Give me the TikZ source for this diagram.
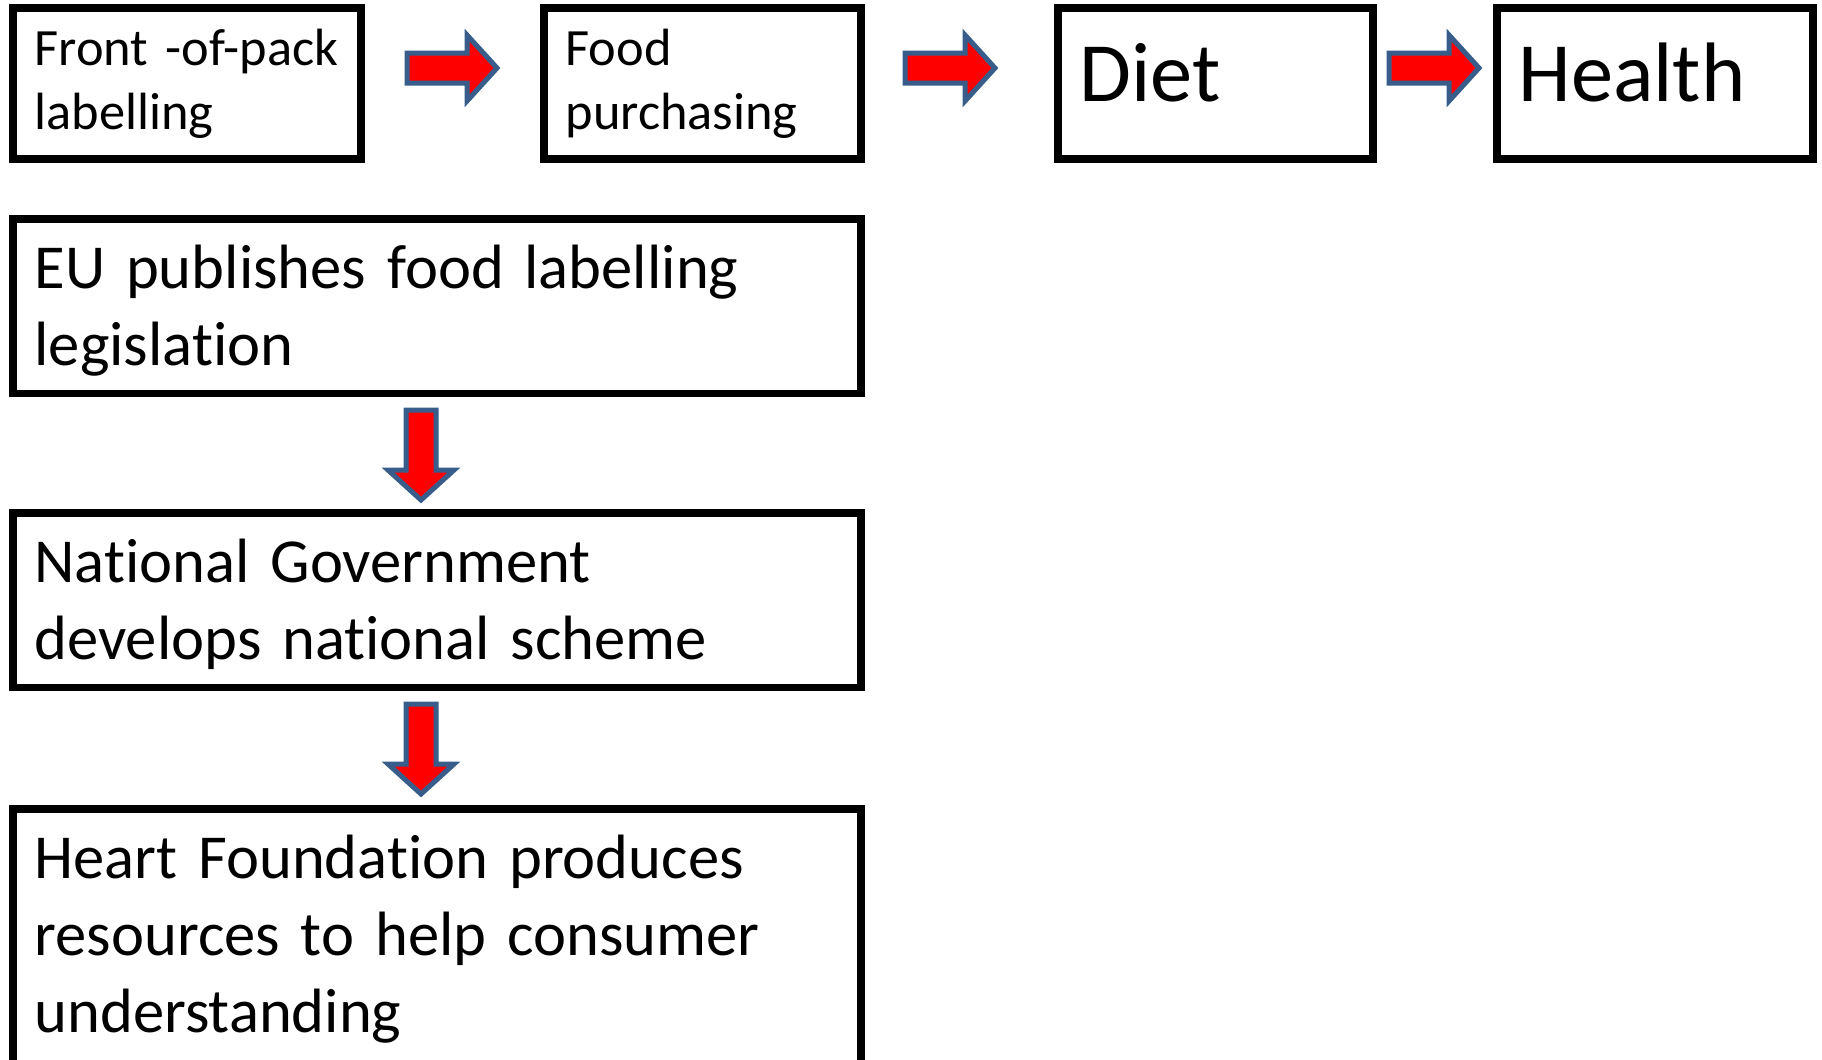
\documentclass[tikz,border=0pt]{standalone}
\usepackage{fontspec}
\setmainfont{Carlito}[Ligatures=NoCommon]
\definecolor{arrowred}{RGB}{255,0,0}
\definecolor{arrowedge}{RGB}{56,93,138}
\newcommand{\smalltext}{\fontsize{14.9pt}{18.2pt}\selectfont}
\newcommand{\midtext}{\fontsize{17.8pt}{21.9pt}\selectfont}
\newcommand{\bigtext}{\fontsize{24pt}{29pt}\selectfont}

\begin{document}
\begin{tikzpicture}[
  x=0.01cm, y=-0.01cm,
  box/.style={draw=black, line width=0.077cm, inner xsep=0.215cm,
              inner ysep=0pt, outer sep=0pt, align=left, anchor=north west},
  smallbox/.style={box, font=\smalltext, minimum height=1.51cm,
                   text height=0.4cm, text depth=0.76cm},
  bigbox/.style={box, font=\bigtext, minimum height=1.51cm,
                 text height=0.6cm, text depth=0.25cm},
  widebox/.style={box, font=\midtext, text width=8.045cm,
                  minimum width=8.475cm, minimum height=1.745cm,
                  text height=0.5cm, text depth=0.85cm},
  blockarrow/.style={draw=arrowedge, fill=arrowred, line width=0.05cm,
                     line join=miter}
]
  \useasboundingbox (0,0) rectangle (1822,1059);
  \clip (0,0) rectangle (1822,1059);

  % top row
  \node[smallbox, text width=3.05cm, minimum width=3.48cm] (fop) at (13,8)
       {Front -of-pack\\labelling};
  \node[smallbox, text width=2.735cm, minimum width=3.165cm] (food) at (544,8)
       {Food\\purchasing};
  \node[bigbox, text width=2.72cm, minimum width=3.15cm] (diet) at (1058,8)
       {Diet};
  \node[bigbox, text width=2.73cm, minimum width=3.16cm] (health) at (1497,8)
       {Health};

  % left column
  \node[widebox] (eu) at (13,219)
       {EU publishes food labelling\\legislation};
  \node[widebox] (natgov) at (13,513)
       {National Government\\develops national scheme};
  \node[widebox, minimum height=2.83cm, text depth=1.94cm] (heart) at (13,809)
       {Heart Foundation produces\\resources to help consumer\\understanding};

  % block arrows
  \foreach \n/\x in {1/452, 2/950, 3/1434} {
    \coordinate (ra\n) at (\x,68);
    \draw[blockarrow] (ra\n) ++(-45,-15) -- ++(60,0) -- ++(0,-18)
      -- ++(30,33) -- ++(-30,33) -- ++(0,-18) -- ++(-60,0) -- cycle;
  }
  \foreach \n/\y in {1/455, 2/749} {
    \coordinate (da\n) at (421,\y);
    \draw[blockarrow] (da\n) ++(-15,-45) -- ++(0,60) -- ++(-18,0)
      -- ++(33,30) -- ++(33,-30) -- ++(-18,0) -- ++(0,-60) -- cycle;
  }
\end{tikzpicture}
\end{document}
